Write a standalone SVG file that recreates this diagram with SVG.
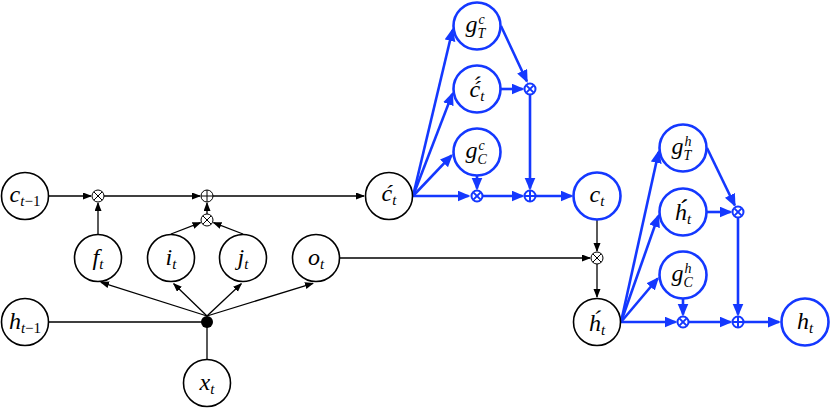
<svg xmlns="http://www.w3.org/2000/svg" xmlns:xlink="http://www.w3.org/1999/xlink" width="830" height="409" viewBox="0 0 830 409">
<style>
.n{fill:#fff;stroke:#000;stroke-width:1.6}
.nb{fill:#fff;stroke:#1438ff;stroke-width:2.6}
.t{font-family:"Liberation Serif","DejaVu Serif",serif;font-style:italic;font-size:24px;fill:#000}
.s{font-size:15px}
.g{font-size:14px}
.u{font-style:normal}
.e{stroke:#000;stroke-width:1.3;fill:none}
.eb{stroke:#1438ff;stroke-width:2.6;fill:none}
.op{fill:#fff;stroke:#000;stroke-width:1}
.opb{fill:#fff;stroke:#1438ff;stroke-width:2}
</style>
<defs>
<marker id="a" markerUnits="userSpaceOnUse" markerWidth="10" markerHeight="8" refX="8" refY="3.5" orient="auto"><path d="M0,0L9,3.5L0,7z" fill="#000"/></marker>
<marker id="ab" markerUnits="userSpaceOnUse" markerWidth="14" markerHeight="12" refX="11" refY="5.5" orient="auto"><path d="M0,0L13,5.5L0,11z" fill="#1438ff"/></marker>
<g id="otimes"><circle r="6"/><path d="M-4.24,-4.24L4.24,4.24M-4.24,4.24L4.24,-4.24"/></g>
<g id="oplus"><circle r="6"/><path d="M-6,0H6M0,-6V6"/></g>
<g id="otimesb"><circle r="5.5"/><path d="M-3.4,-3.4L3.4,3.4M-3.4,3.4L3.4,-3.4"/></g>
<g id="oplusb"><circle r="5.5"/><path d="M-5.5,0H5.5M0,-5.5V5.5"/></g>
</defs>

<g id="connectors">
<path class="e" marker-end="url(#a)" d="M49,196H91"/>
<path class="e" marker-end="url(#a)" d="M104,196H200"/>
<path class="e" marker-end="url(#a)" d="M213,196H364"/>
<path class="e" marker-end="url(#a)" d="M98,234V203"/>
<path class="e" marker-end="url(#a)" d="M171,234L200.5,222.6"/>
<path class="e" marker-end="url(#a)" d="M243,234L213.5,222.6"/>
<path class="e" marker-end="url(#a)" d="M207,214V203"/>
<path class="e" marker-end="url(#a)" d="M340,258H590"/>
<path class="e" marker-end="url(#a)" d="M597,220V251"/>
<path class="e" marker-end="url(#a)" d="M597,264V297"/>
<path class="e" d="M49,322H207M207,359V322"/>
<path class="e" marker-end="url(#a)" d="M207,316L101,282.3"/>
<path class="e" marker-end="url(#a)" d="M207,316L173.7,283.7"/>
<path class="e" marker-end="url(#a)" d="M207,316L241.3,283.7"/>
<path class="e" marker-end="url(#a)" d="M207,316L313,283.3"/>

<path class="eb" marker-end="url(#ab)" d="M413,196L452.5,30"/>
<path class="eb" marker-end="url(#ab)" d="M413,196L452.3,93.9"/>
<path class="eb" marker-end="url(#ab)" d="M413,196L451.6,155.4"/>
<path class="eb" marker-end="url(#ab)" d="M413,196H468.5"/>
<path class="eb" marker-end="url(#ab)" d="M477,176V188.5"/>
<path class="eb" marker-end="url(#ab)" d="M482.5,196H522.5"/>
<path class="eb" marker-end="url(#ab)" d="M501,26L526.8,81.2"/>
<path class="eb" marker-end="url(#ab)" d="M501,89H522.5"/>
<path class="eb" marker-end="url(#ab)" d="M530,94.5V188.5"/>
<path class="eb" marker-end="url(#ab)" d="M535.5,196H571.5"/>

<path class="eb" marker-end="url(#ab)" d="M621,322L658.6,152"/>
<path class="eb" marker-end="url(#ab)" d="M621,322L658.3,215.9"/>
<path class="eb" marker-end="url(#ab)" d="M621,322L657.7,278.5"/>
<path class="eb" marker-end="url(#ab)" d="M621,322H675.5"/>
<path class="eb" marker-end="url(#ab)" d="M683,299V314.5"/>
<path class="eb" marker-end="url(#ab)" d="M688.5,322H730.5"/>
<path class="eb" marker-end="url(#ab)" d="M707,148L734.7,205.2"/>
<path class="eb" marker-end="url(#ab)" d="M707,212H730.5"/>
<path class="eb" marker-end="url(#ab)" d="M738,217.5V314.5"/>
<path class="eb" marker-end="url(#ab)" d="M743.5,322H779"/>
</g>

<g id="ops">
<use xlink:href="#otimes" x="98" y="196" class="op"/>
<use xlink:href="#oplus" x="207" y="196" class="op"/>
<use xlink:href="#otimes" x="207" y="220" class="op"/>
<use xlink:href="#otimes" x="597" y="258" class="op"/>
<circle cx="207" cy="322" r="6" fill="#000"/>
<use xlink:href="#otimesb" x="477" y="196" class="opb"/>
<use xlink:href="#otimesb" x="530" y="89" class="opb"/>
<use xlink:href="#oplusb" x="530" y="196" class="opb"/>
<use xlink:href="#otimesb" x="683" y="322" class="opb"/>
<use xlink:href="#otimesb" x="738" y="212" class="opb"/>
<use xlink:href="#oplusb" x="738" y="322" class="opb"/>
</g>

<g id="c_prev"><circle class="n" cx="25" cy="196" r="23.5"/><text class="t" x="25" y="201.5" text-anchor="middle">c<tspan class="s" dy="4">t</tspan><tspan class="s u">−1</tspan></text></g>
<g id="h_prev"><circle class="n" cx="25" cy="322" r="23.5"/><text class="t" x="25" y="328.5" text-anchor="middle">h<tspan class="s" dy="4">t</tspan><tspan class="s u">−1</tspan></text></g>
<g id="f"><circle class="n" cx="98" cy="258" r="23.5"/><text class="t" x="98" y="265" text-anchor="middle">f<tspan class="s" dy="4">t</tspan></text></g>
<g id="i"><circle class="n" cx="171" cy="258" r="23.5"/><text class="t" x="171" y="265" text-anchor="middle">i<tspan class="s" dy="4">t</tspan></text></g>
<g id="j"><circle class="n" cx="243" cy="258" r="23.5"/><text class="t" x="243" y="265" text-anchor="middle">j<tspan class="s" dy="4">t</tspan></text></g>
<g id="o"><circle class="n" cx="316" cy="258" r="23.5"/><text class="t" x="316" y="264.5" text-anchor="middle">o<tspan class="s" dy="4">t</tspan></text></g>
<g id="x"><circle class="n" cx="207" cy="383" r="23.5"/><text class="t" x="207" y="389.5" text-anchor="middle">x<tspan class="s" dy="4">t</tspan></text></g>
<g id="c_hat"><circle class="n" cx="389" cy="196" r="23.5"/><text class="t" x="389" y="201" text-anchor="middle">ć<tspan class="s" dy="4">t</tspan></text></g>
<g id="h_hat"><circle class="n" cx="597" cy="322" r="23.5"/><text class="t" x="597" y="331" text-anchor="middle">h&#x301;<tspan class="s" dy="4">t</tspan></text></g>

<g id="gTc"><circle class="nb" cx="477" cy="26" r="23.5"/><text class="t" x="465.5" y="31.5">g<tspan class="g" x="478.5" y="24">c</tspan><tspan class="g" x="477.5" y="38">T</tspan></text></g>
<g id="c_hat2"><circle class="nb" cx="477" cy="89" r="23.5"/><text class="t" x="477" y="96.5" text-anchor="middle">ć&#x301;<tspan class="s" dy="4">t</tspan></text></g>
<g id="gCc"><circle class="nb" cx="477" cy="152" r="23.5"/><text class="t" x="465.5" y="157.5">g<tspan class="g" x="478.5" y="150">c</tspan><tspan class="g" x="477.5" y="164">C</tspan></text></g>
<g id="c_t"><circle class="nb" cx="597" cy="196" r="23.5"/><text class="t" x="597" y="202" text-anchor="middle">c<tspan class="s" dy="4">t</tspan></text></g>
<g id="gTh"><circle class="nb" cx="683" cy="148" r="23.5"/><text class="t" x="671.5" y="153.5">g<tspan class="g" x="684.5" y="146">h</tspan><tspan class="g" x="683.5" y="160">T</tspan></text></g>
<g id="h_hat2"><circle class="nb" cx="683" cy="212" r="23.5"/><text class="t" x="683" y="220" text-anchor="middle">h&#x301;&#x301;<tspan class="s" dy="4">t</tspan></text></g>
<g id="gCh"><circle class="nb" cx="683" cy="275" r="23.5"/><text class="t" x="671.5" y="280.5">g<tspan class="g" x="684.5" y="273">h</tspan><tspan class="g" x="683.5" y="287">C</tspan></text></g>
<g id="h_t"><circle class="nb" cx="805" cy="322" r="23.5"/><text class="t" x="805" y="328.5" text-anchor="middle">h<tspan class="s" dy="4">t</tspan></text></g>
</svg>
